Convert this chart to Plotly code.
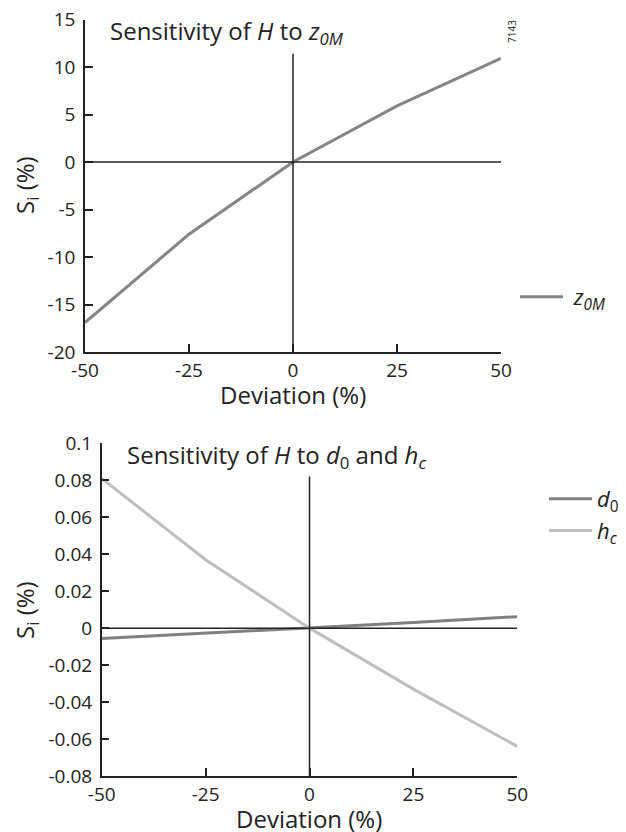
import plotly.graph_objects as go

# The page body has an 8px margin, so the figure is sized to fit the 626x832 window
OFF = 8
W, H = 626 - OFF, 832 - OFF

# ---- data ----
deviation = [-50, -25, 0, 25, 50]
z0M = [-16.9, -7.6, 0.0, 5.9, 10.9]
d0 = [-0.0056, -0.0028, 0.0, 0.003, 0.0062]
hc = [0.081, 0.037, 0.0, -0.033, -0.064]

x_ticks = [-50, -25, 0, 25, 50]
x_ticktext = ["-50", "-25", "0", "25", "50"]
y1_ticks = [15, 10, 5, 0, -5, -10, -15, -20]
y1_ticktext = ["15", "10", "5", "0", "-5", "-10", "-15", "-20"]
y2_ticks = [0.1, 0.08, 0.06, 0.04, 0.02, 0, -0.02, -0.04, -0.06, -0.08]
y2_ticktext = ["0.1", "0.08", "0.06", "0.04", "0.02", "0", "-0.02", "-0.04", "-0.06", "-0.08"]

FONT = "Open Sans"
TXT = "#222222"


def px_x(p):
    return (p - OFF) / W


def px_y(p):
    return 1 - (p - OFF) / H


fig = go.Figure()
fig.add_trace(go.Scatter(x=deviation, y=z0M, mode="lines", name="\u00a0<i>z</i><sub><i>0M</i></sub>",
                         line=dict(color="#858585", width=3), xaxis="x", yaxis="y", legend="legend"))
fig.add_trace(go.Scatter(x=deviation, y=d0, mode="lines", name="<i>d</i><sub>0</sub>",
                         line=dict(color="#808080", width=3), xaxis="x2", yaxis="y2", legend="legend2"))
fig.add_trace(go.Scatter(x=deviation, y=hc, mode="lines", name="<i>h</i><sub><i>c</i></sub>",
                         line=dict(color="#bfbfbf", width=3), xaxis="x2", yaxis="y2", legend="legend2"))

axis_common = dict(showline=True, linecolor="#222222", linewidth=1.5, ticks="inside", ticklen=8,
                   tickcolor="#222222", tickwidth=1.5, showgrid=False, zeroline=False,
                   tickfont=dict(family=FONT, size=19, color=TXT), mirror=False, fixedrange=True,
                   automargin=False, ticklabeloverflow="allow")

fig.update_layout(
    width=W, height=H, margin=dict(l=0, r=0, t=0, b=0, autoexpand=False),
    paper_bgcolor="white", plot_bgcolor="white",
    xaxis=dict(domain=[px_x(85), px_x(501)], range=[-50, 50], anchor="y",
               tickvals=x_ticks, ticktext=x_ticktext, **axis_common),
    yaxis=dict(domain=[px_y(352), px_y(19.5)], range=[-20, 15], anchor="x",
               tickvals=y1_ticks, ticktext=y1_ticktext, ticklabelstandoff=4, **axis_common),
    xaxis2=dict(domain=[px_x(101.7), px_x(517.3)], range=[-50, 50], anchor="y2",
                tickvals=x_ticks, ticktext=x_ticktext, **axis_common),
    yaxis2=dict(domain=[px_y(776), px_y(443.3)], range=[-0.08, 0.1], anchor="x2",
                tickvals=y2_ticks, ticktext=y2_ticktext, ticklabelstandoff=4, **axis_common),
    legend=dict(x=px_x(515), y=px_y(297), xanchor="left", yanchor="middle",
                bgcolor="rgba(0,0,0,0)", font=dict(family=FONT, size=22, color=TXT),
                itemwidth=43, tracegroupgap=0),
    legend2=dict(x=px_x(544), y=px_y(515), xanchor="left", yanchor="middle",
                 bgcolor="rgba(0,0,0,0)", font=dict(family=FONT, size=22, color=TXT),
                 itemwidth=43, tracegroupgap=0),
    showlegend=True,
)

# zero reference lines
fig.add_shape(type="line", xref="x", yref="y", x0=-50, x1=50, y0=0, y1=0,
              line=dict(color="#222222", width=1.5))
fig.add_shape(type="line", xref="x", yref="y", x0=0, x1=0, y0=-20, y1=11.4,
              line=dict(color="#222222", width=1.5))
fig.add_shape(type="line", xref="x2", yref="y2", x0=-50, x1=50, y0=0, y1=0,
              line=dict(color="#222222", width=1.5))
fig.add_shape(type="line", xref="x2", yref="y2", x0=0, x1=0, y0=-0.08, y1=0.082,
              line=dict(color="#222222", width=1.5))

ann_font = dict(family=FONT, size=24, color=TXT)
anns = [
    dict(text="Sensitivity of <i>H</i> to <i>z</i><sub><i>0M</i></sub>", x=px_x(108), y=px_y(32),
         xanchor="left", yanchor="middle", font=ann_font),
    dict(text="Sensitivity of <i>H</i> to <i>d</i><sub>0</sub> and <i>h</i><sub><i>c</i></sub>",
         x=px_x(125), y=px_y(456), xanchor="left", yanchor="middle", font=ann_font),
    dict(text="Deviation (%)", x=px_x(292.5), y=px_y(394), xanchor="center", yanchor="middle", font=ann_font),
    dict(text="Deviation (%)", x=px_x(309), y=px_y(818.5), xanchor="center", yanchor="middle", font=ann_font),
    dict(text="S<sub>i</sub> (%)", x=px_x(26), y=px_y(185), xanchor="center", yanchor="middle",
         textangle=-90, font=ann_font),
    dict(text="S<sub>i</sub> (%)", x=px_x(26), y=px_y(610), xanchor="center", yanchor="middle",
         textangle=-90, font=ann_font),
    dict(text="7143", x=px_x(512), y=px_y(32), xanchor="center", yanchor="middle",
         textangle=-90, font=dict(family=FONT, size=10, color=TXT)),
]
for a in anns:
    fig.add_annotation(xref="paper", yref="paper", showarrow=False, **a)

fig.write_html("out.html")
